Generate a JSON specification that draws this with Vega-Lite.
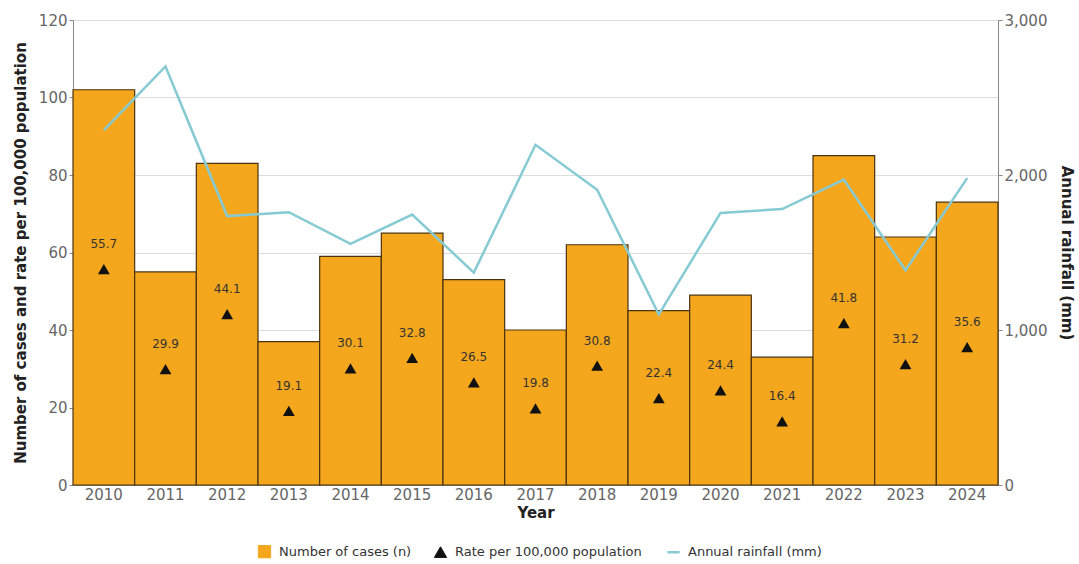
{
  "$schema": "https://vega.github.io/schema/vega-lite/v6.json",
  "width": 925,
  "height": 465,
  "autosize": {"type": "none"},
  "padding": {"left": 73, "top": 20, "right": 81, "bottom": 79},
  "background": "white",
  "data": {
    "values": [
      {"year": "2010", "cases": 102, "rate": 55.7, "rain": 2290},
      {"year": "2011", "cases": 55, "rate": 29.9, "rain": 2700},
      {"year": "2012", "cases": 83, "rate": 44.1, "rain": 1735},
      {"year": "2013", "cases": 37, "rate": 19.1, "rain": 1760},
      {"year": "2014", "cases": 59, "rate": 30.1, "rain": 1555},
      {"year": "2015", "cases": 65, "rate": 32.8, "rain": 1745},
      {"year": "2016", "cases": 53, "rate": 26.5, "rain": 1370},
      {"year": "2017", "cases": 40, "rate": 19.8, "rain": 2195},
      {"year": "2018", "cases": 62, "rate": 30.8, "rain": 1905},
      {"year": "2019", "cases": 45, "rate": 22.4, "rain": 1100},
      {"year": "2020", "cases": 49, "rate": 24.4, "rain": 1755},
      {"year": "2021", "cases": 33, "rate": 16.4, "rain": 1780},
      {"year": "2022", "cases": 85, "rate": 41.8, "rain": 1970},
      {"year": "2023", "cases": 64, "rate": 31.2, "rain": 1385},
      {"year": "2024", "cases": 73, "rate": 35.6, "rain": 1980}
    ]
  },
  "config": {
    "font": "DejaVu Sans",
    "view": {"stroke": null},
    "axis": {
      "labelFont": "DejaVu Sans",
      "labelColor": "#666666",
      "labelFontSize": 15,
      "titleFont": "DejaVu Sans",
      "titleFontSize": 15,
      "titleColor": "#222222",
      "titleFontWeight": "bold",
      "domainColor": "#888888",
      "tickColor": "#888888",
      "gridColor": "#dddddd"
    },
    "legend": {"labelFont": "DejaVu Sans", "labelLimit": 400}
  },
  "layer": [
    {
      "layer": [
        {
          "mark": {"type": "bar", "stroke": "#4a3210", "strokeWidth": 1.2},
          "encoding": {
            "x": {
              "field": "year",
              "type": "ordinal",
              "scale": {"paddingInner": 0, "paddingOuter": 0},
              "axis": {"title": "Year", "labelAngle": 0, "ticks": false, "labelPadding": 2, "titlePadding": 3}
            },
            "y": {
              "field": "cases",
              "type": "quantitative",
              "scale": {"domain": [0, 120]},
              "axis": {
                "title": "Number of cases and rate per 100,000 population",
                "values": [0, 20, 40, 60, 80, 100, 120],
                "tickSize": 4,
                "labelPadding": 2,
                "titlePadding": 10
              }
            },
            "color": {
              "datum": "Number of cases (n)",
              "type": "nominal",
              "scale": {
                "domain": ["Number of cases (n)", "Rate per 100,000 population", "Annual rainfall (mm)"],
                "range": ["#f4a71d", "#111111", "#86cad3"]
              },
              "legend": {
                "orient": "none",
                "legendX": 185,
                "legendY": 525,
                "direction": "horizontal",
                "title": null,
                "labelFontSize": 13,
                "labelColor": "#333333",
                "labelOffset": 8,
                "labelLimit": 400,
                "symbolSize": 150,
                "columnPadding": 20,
                "symbolType": {"expr": "datum.value === 'Number of cases (n)' ? 'square' : (datum.value === 'Rate per 100,000 population' ? 'triangle-up' : 'stroke')"},
                "symbolStrokeColor": {"expr": "datum.value === 'Number of cases (n)' ? '#4a3210' : (datum.value === 'Rate per 100,000 population' ? '#111111' : '#86cad3')"},
                "symbolStrokeWidth": {"expr": "datum.value === 'Annual rainfall (mm)' ? 2.5 : 1"}
              }
            }
          }
        },
        {
          "mark": {"type": "point", "shape": "triangle-up", "filled": true, "size": 140, "opacity": 1},
          "encoding": {
            "x": {"field": "year", "type": "ordinal"},
            "y": {"field": "rate", "type": "quantitative"},
            "color": {"datum": "Rate per 100,000 population", "type": "nominal", "legend": null}
          }
        },
        {
          "mark": {"type": "text", "dy": -25, "fontSize": 12, "color": "#333333", "font": "DejaVu Sans"},
          "encoding": {
            "x": {"field": "year", "type": "ordinal"},
            "y": {"field": "rate", "type": "quantitative"},
            "text": {"field": "rate", "type": "quantitative", "format": ".1f"}
          }
        }
      ]
    },
    {
      "mark": {"type": "line", "strokeWidth": 2.5},
      "encoding": {
        "x": {"field": "year", "type": "ordinal"},
        "y": {
          "field": "rain",
          "type": "quantitative",
          "scale": {"domain": [0, 3000]},
          "axis": {
            "orient": "right",
            "title": "Annual rainfall (mm)",
            "values": [0, 1000, 2000, 3000],
            "format": ",.0f",
            "grid": false,
            "tickSize": 4,
            "labelPadding": 2,
            "titlePadding": 12
          }
        },
        "color": {"datum": "Annual rainfall (mm)", "type": "nominal", "legend": null}
      }
    }
  ],
  "resolve": {"scale": {"y": "independent"}}
}
